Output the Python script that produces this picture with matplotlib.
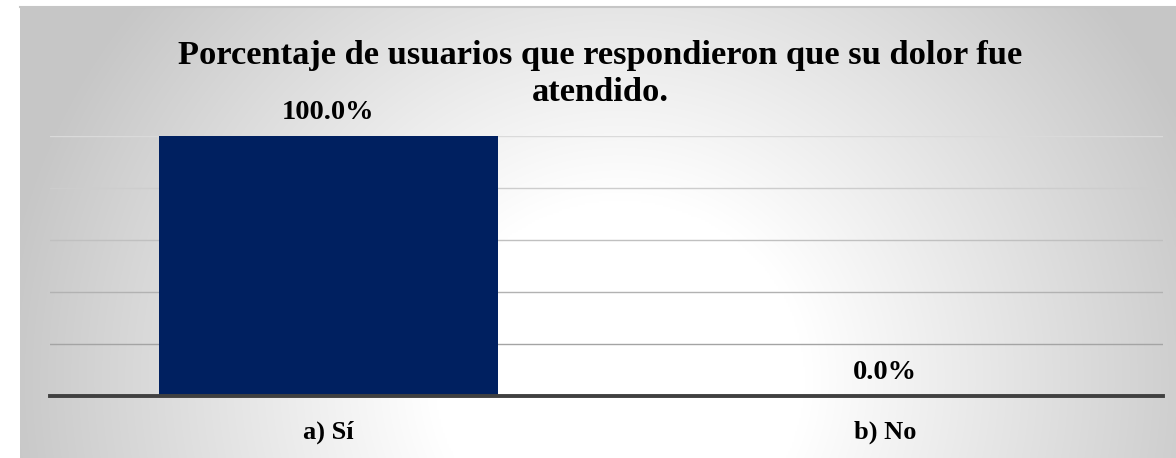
import numpy as np
import matplotlib
matplotlib.use("Agg")
import matplotlib.pyplot as plt

# Chart content
title_lines = ["Porcentaje de usuarios que respondieron que su dolor fue", "atendido."]
categories = ["a) Sí", "b) No"]
percentages = [100.0, 0.0]
y_ticks = [0, 20, 40, 60, 80, 100]

W, H = 1176, 458
DPI = 100
SERIF = ["Liberation Serif", "DejaVu Serif"]
BAR_COLOR = "#002060"

fig = plt.figure(figsize=(W / DPI, H / DPI), dpi=DPI, facecolor="white")

# Chart area with a soft gray-to-white radial fill
x0, y0, x1, y1 = 20, 7, 1176, 458
bg = fig.add_axes([x0 / W, 1 - y1 / H, (x1 - x0) / W, (y1 - y0) / H], zorder=0)
xs = np.linspace(x0, x1, 600)
ys = np.linspace(y0, y1, 240)
X, Y = np.meshgrid(xs, ys)
d = np.sqrt(((X - 620) / 620.0) ** 2 + ((Y - 380) / 600.0) ** 2)
t = np.clip((d - 0.3) / 0.7, 0, 1)
v = 1 - 0.22 * t
bg.imshow(np.dstack([v, v, v]), extent=[0, 1, 0, 1], origin="upper", aspect="auto",
          interpolation="bilinear")
bg.set_xlim(0, 1)
bg.set_ylim(0, 1)
bg.axis("off")
fig.add_artist(plt.Line2D([x0 / W, 1], [1 - y0 / H, 1 - y0 / H], color="#c6c6c6",
                          lw=1.5, transform=fig.transFigure))

# Plot area
ax = fig.add_axes([50 / W, (H - 396) / H, 1113 / W, 260 / H], zorder=1)
ax.patch.set_alpha(0)
x = np.arange(len(categories))
ax.bar(x, percentages, width=0.61, color=BAR_COLOR, zorder=2)
ax.set_xlim(-0.5, len(categories) - 0.5)
ax.set_ylim(0, 100)
ax.set_yticks(y_ticks)
ax.tick_params(axis="y", left=False, labelleft=False)

ax.yaxis.grid(True, linewidth=1.0)
grid_colors = ["#404040", "#a4a4a4", "#b2b2b2", "#c0c0c0", "#cdcdcd", "#dadada"]
for line, c in zip(ax.yaxis.get_gridlines(), grid_colors):
    line.set_color(c)
ax.set_axisbelow(True)

for side in ("top", "left", "right"):
    ax.spines[side].set_visible(False)
ax.spines["bottom"].set_color("#404040")
ax.spines["bottom"].set_linewidth(2.8)
ax.spines["bottom"].set_zorder(3)

ax.set_xticks(x)
ax.set_xticklabels(categories, fontsize=19, fontweight="bold", family=SERIF)
ax.tick_params(axis="x", length=0, pad=31)
for lbl in ax.get_xticklabels():
    lbl.set_va("baseline")

# Value labels above bars
for xi, val in zip(x, percentages):
    ax.annotate(f"{val:.1f}%", xy=(xi, val), xytext=(0, 12), textcoords="offset points",
                ha="center", va="baseline", fontsize=20.5, fontweight="bold",
                family=SERIF, color="#000000", annotation_clip=False)

# Title
for i, line in enumerate(title_lines):
    fig.text(600 / W, 1 - (64 + 37 * i) / H, line, ha="center", va="baseline",
             fontsize=24.8, fontweight="bold", family=SERIF, color="#000000")

fig.savefig("out.png", dpi=DPI, facecolor="white")
